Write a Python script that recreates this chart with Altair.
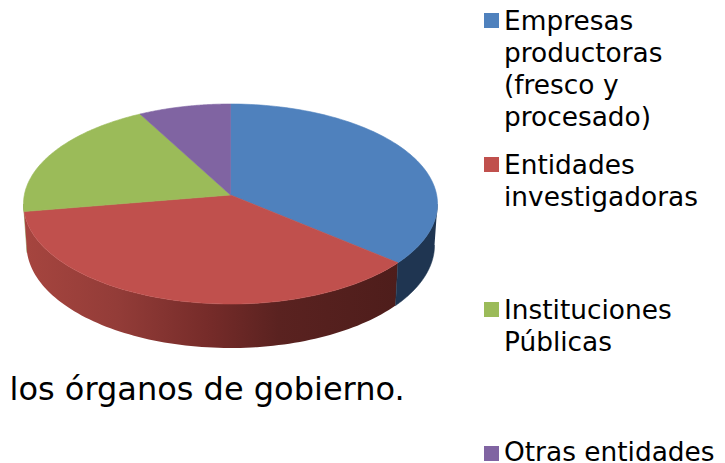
import math
import altair as alt
import pandas as pd

categories = ["Empresas productoras (fresco y procesado)", "Entidades investigadoras", "Instituciones Públicas", "Otras entidades"]
shares = [35.0, 38.8, 19.0, 7.2]
colors = ["#4F81BD", "#C0504D", "#9BBB59", "#8064A2"]
legend_lines = [
    "Empresas\nproductoras\n(fresco y\nprocesado)",
    "Entidades\ninvestigadoras",
    "Instituciones\nPúblicas",
    "Otras entidades",
]
caption = "los órganos de gobierno."

FONT = "DejaVu Sans"
W, H = 709, 455
xs = alt.Scale(domain=[8, 8 + W], range=[0, W], nice=False, zero=False)
ys = alt.Scale(domain=[8, 8 + H], range=[0, H], nice=False, zero=False)
X = lambda f: alt.X(f, type="quantitative", scale=xs, axis=None)
Y = lambda f: alt.Y(f, type="quantitative", scale=ys, axis=None)

APEX = (230.5, 195)
TOP = (230.5, 204, 207, 100)
LOW = (230.5, 245, 204, 103)


def rim(e, deg):
    a = math.radians(deg)
    return (e[0] + e[2] * math.sin(a), e[1] - e[3] * math.cos(a))


def arc(e, a, b, n=90):
    return [rim(e, a + (b - a) * i / n) for i in range(n + 1)]


def poly(points, fill):
    df = pd.DataFrame(points, columns=["x", "y"])
    df["i"] = range(len(df))
    return alt.Chart(df).mark_line(
        fill=fill, stroke=fill if isinstance(fill, str) else "#6b2826",
        strokeWidth=0.01 if not isinstance(fill, str) else 0.6, interpolate="linear", clip=False
    ).encode(x=X("x"), y=Y("y"), order=alt.Order("i:Q"))


bounds = [0]
for s in shares:
    bounds.append(bounds[-1] + s * 3.6)

red_grad = alt.Gradient(
    gradient="linear", x1=0, x2=1, y1=0, y2=0,
    stops=[
        alt.GradientStop(offset=0, color="#A6453F"),
        alt.GradientStop(offset=0.25, color="#933C38"),
        alt.GradientStop(offset=0.5, color="#752B29"),
        alt.GradientStop(offset=0.68, color="#5A2220"),
        alt.GradientStop(offset=1, color="#4E1D1B"),
    ],
)

layers = [
    poly(arc(TOP, bounds[2], 270) + arc(LOW, 270, bounds[2]), "#7A9440"),
    poly(arc(TOP, bounds[1], bounds[2]) + arc(LOW, bounds[2], bounds[1]), red_grad),
    poly(arc(TOP, 90, bounds[1]) + arc(LOW, bounds[1], 90), "#1F3551"),
]
for i, c in enumerate(colors):
    layers.append(poly([APEX] + arc(TOP, bounds[i], bounds[i + 1]) + [APEX], c))

legend_df = pd.DataFrame({
    "label": legend_lines,
    "c": colors,
    "sx": [491.5] * 4,
    "sy": [20.5, 164.5, 309.5, 453.5],
    "tx": [504] * 4,
    "ty": [30, 174, 319, 461],
})
layers.append(alt.Chart(legend_df).mark_square(size=225, opacity=1, strokeWidth=0).encode(
    x=X("sx"), y=Y("sy"), color=alt.Color("c:N", scale=None)))
layers.append(alt.Chart(legend_df).mark_text(
    align="left", baseline="alphabetic", font=FONT, fontSize=26.4, lineHeight=32, color="#000000"
).encode(x=X("tx"), y=Y("ty"), text=alt.Text("label:N")).transform_calculate(
    label="split(datum.label, '\\n')"))
cap_df = pd.DataFrame({"t": [caption], "x": [9.5], "y": [400]})
layers.append(alt.Chart(cap_df).mark_text(
    align="left", baseline="alphabetic", font=FONT, fontSize=32, color="#000000"
).encode(x=X("x"), y=Y("y"), text="t:N"))

chart = alt.layer(*layers).properties(
    width=W, height=H, padding=0, autosize=alt.AutoSizeParams(type="none")
).configure_view(stroke=None)

chart.save("out.html", embed_options={"renderer": "svg", "actions": False})
